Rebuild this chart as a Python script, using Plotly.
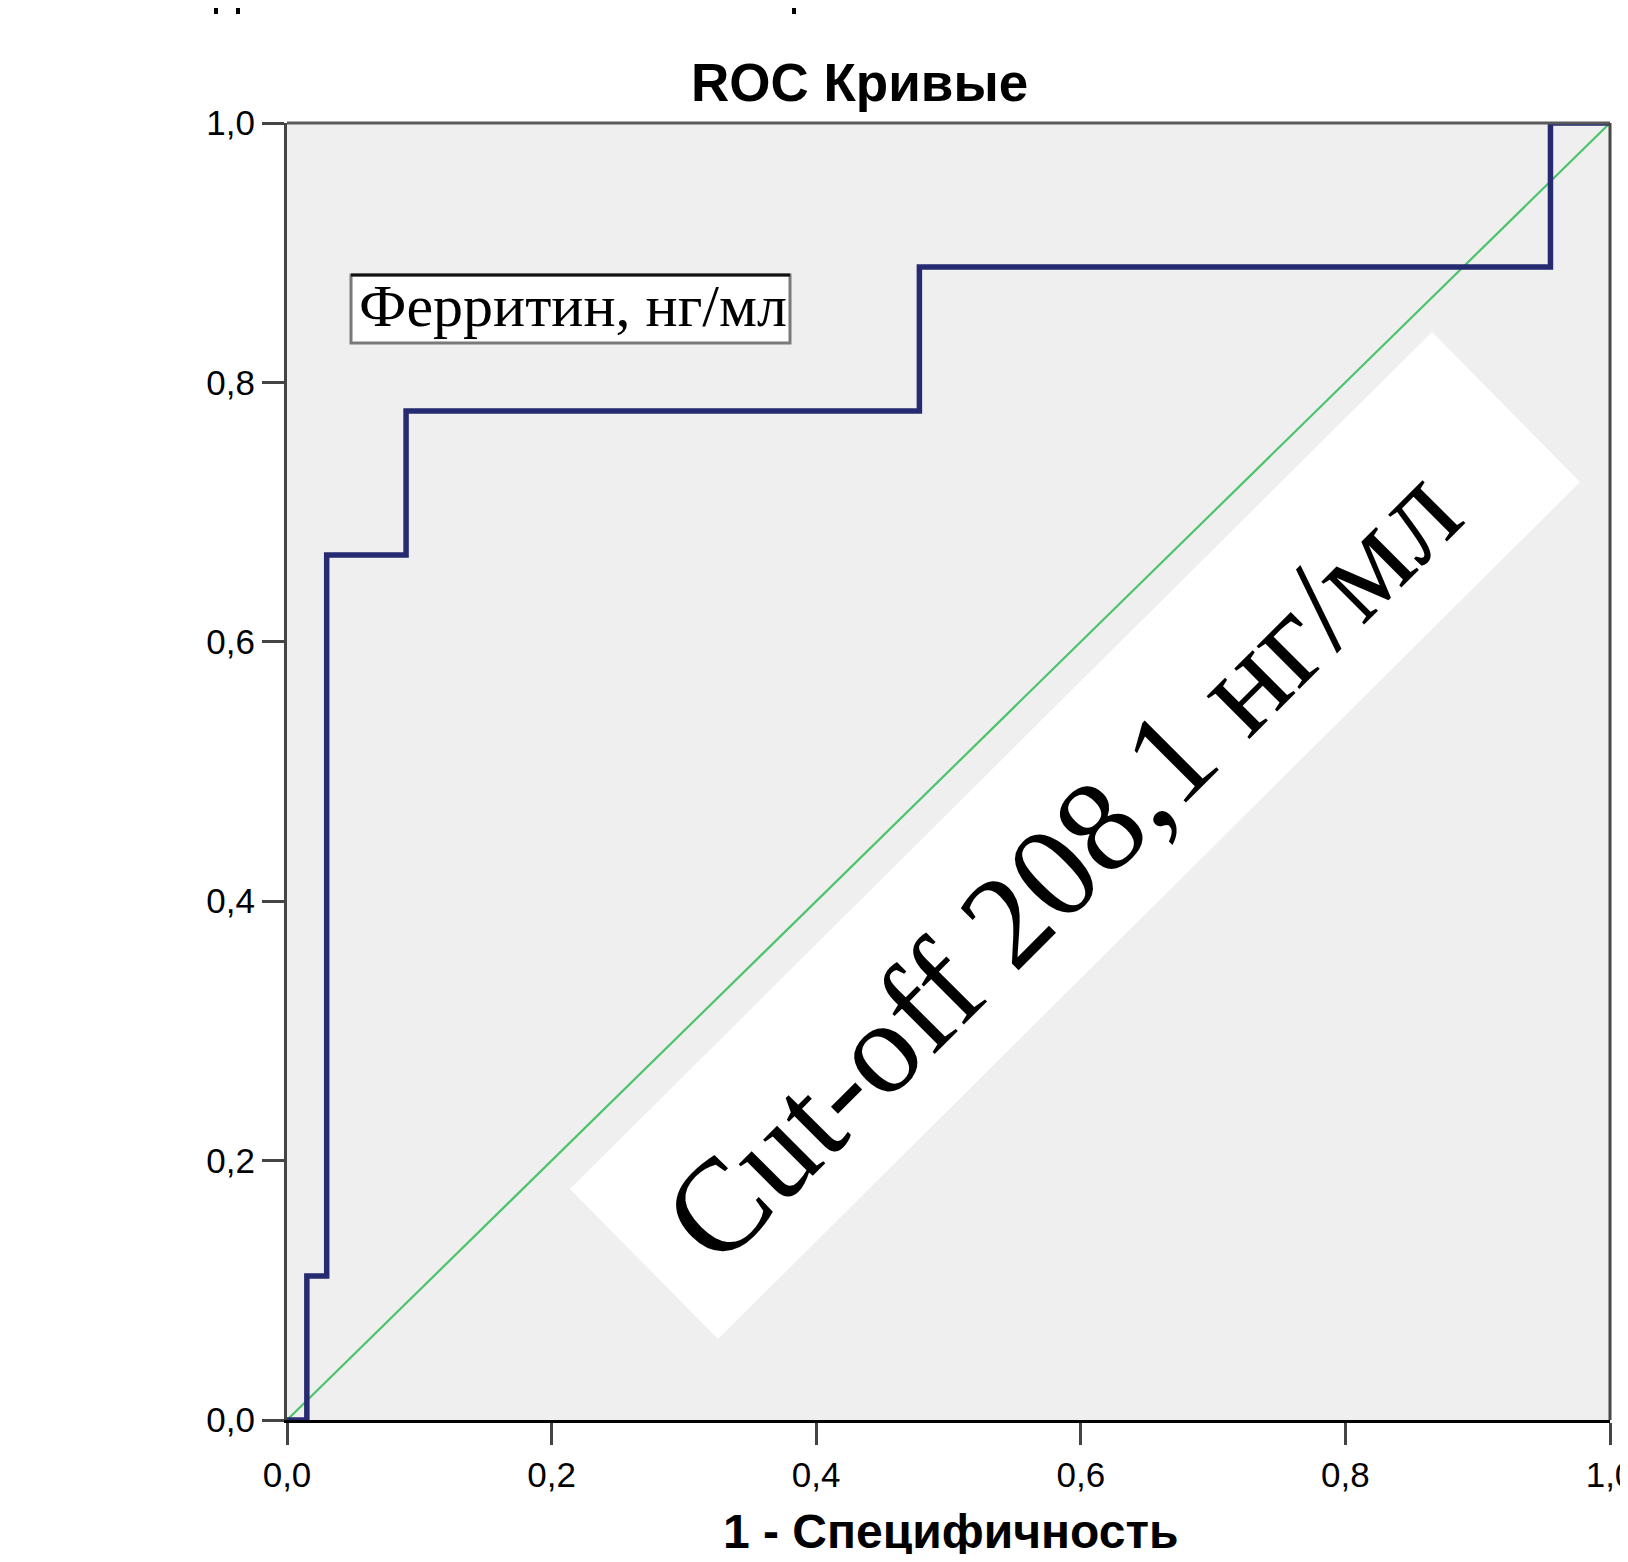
import plotly.graph_objects as go

# ---- data ----
roc_fpr = [0.0, 0.015, 0.015, 0.030, 0.030, 0.090, 0.090, 0.478, 0.478, 0.955, 0.955, 1.0]
roc_tpr = [0.0, 0.0, 0.111, 0.111, 0.667, 0.667, 0.778, 0.778, 0.889, 0.889, 1.0, 1.0]
ref_x = [0.0, 1.0]
ref_y = [0.0, 1.0]
tick_vals = [0.0, 0.2, 0.4, 0.6, 0.8, 1.0]
tick_text = ["0,0", "0,2", "0,4", "0,6", "0,8", "1,0"]

OFF = 8  # page body margin
WIN_W, WIN_H = 1628, 1562
FIG_W, FIG_H = WIN_W - 2 * OFF, WIN_H - 2 * OFF
L, R, T, B = 287, 1610, 123, 1420  # plot area in window pixels


def px(x):
    return (x - L) / (R - L)


def py(y):
    return (B - y) / (B - T)


fig = go.Figure()
fig.add_trace(go.Scatter(x=ref_x, y=ref_y, mode="lines",
                         line=dict(color="#4CC36C", width=2.2), hoverinfo="skip"))
fig.add_trace(go.Scatter(x=roc_fpr, y=roc_tpr, mode="lines",
                         line=dict(color="#262A70", width=5.5), hoverinfo="skip"))

# rotated white box (behind traces)
corners = [(1432, 332), (1580, 482), (718, 1339), (570, 1189)]
path = "M " + " L ".join(f"{px(cx):.5f},{py(cy):.5f}" for cx, cy in corners) + " Z"
shapes = [
    dict(type="path", xref="paper", yref="paper", path=path,
         fillcolor="white", line=dict(width=0), layer="below"),
    # legend label box
    dict(type="rect", xref="paper", yref="paper", x0=px(351), x1=px(790), y0=py(343), y1=py(275),
         fillcolor="white", line=dict(color="#7a7a7a", width=3), layer="above"),
    dict(type="line", xref="paper", yref="paper", x0=px(351), x1=px(790), y0=py(275), y1=py(275),
         line=dict(color="#111111", width=3), layer="above"),
    # top & right frame
    dict(type="line", xref="paper", yref="paper", x0=0, x1=1, y0=1, y1=1,
         line=dict(color="#5a5a5a", width=3), layer="above"),
    dict(type="line", xref="paper", yref="paper", x0=1, x1=1, y0=0, y1=1,
         line=dict(color="#474747", width=3), layer="above"),
]
# stubs of cropped text at the very top edge of the image
for sx in (216, 238, 794):
    shapes.append(dict(type="rect", xref="paper", yref="paper",
                       x0=px(sx - 2), x1=px(sx + 2), y0=py(14), y1=py(8),
                       fillcolor="black", line=dict(width=0), layer="above"))

annotations = [
    dict(text="<b>ROC Кривые</b>", xref="paper", yref="paper", x=px(859), y=py(82),
         showarrow=False, font=dict(family="Liberation Sans", size=53, color="black"),
         xanchor="center", yanchor="middle"),
    dict(text="<b>1 - Специфичность</b>", xref="paper", yref="paper", x=px(950), y=py(1532),
         showarrow=False, font=dict(family="Liberation Sans", size=48, color="black"),
         xanchor="center", yanchor="middle"),
    dict(text="Ферритин, нг/мл", xref="paper", yref="paper", x=px(573), y=py(306),
         showarrow=False, font=dict(family="Liberation Serif", size=60, color="black"),
         xanchor="center", yanchor="middle"),
    dict(text="Cut-off 208,1 нг/мл", xref="paper", yref="paper", x=px(1061), y=py(864),
         showarrow=False, textangle=-45,
         font=dict(family="Liberation Serif", size=132, color="black"),
         xanchor="center", yanchor="middle"),
]

fig.update_layout(
    width=FIG_W, height=FIG_H, autosize=False,
    margin=dict(l=L - OFF, r=(OFF + FIG_W) - R, t=T - OFF, b=(OFF + FIG_H) - B,
                pad=0, autoexpand=False),
    paper_bgcolor="white", plot_bgcolor="#EFEFEF",
    showlegend=False,
    shapes=shapes, annotations=annotations,
    font=dict(family="Liberation Sans", color="black"),
)
fig.update_xaxes(range=[0, 1], tickvals=tick_vals, ticktext=tick_text, automargin=False,
                 showgrid=False, zeroline=False, showline=True, linecolor="black", linewidth=3,
                 ticks="outside", ticklen=22, tickwidth=3, tickcolor="#444444",
                 ticklabeloverflow="allow",
                 tickfont=dict(family="Liberation Sans", size=35, color="black"))
fig.update_yaxes(range=[0, 1], tickvals=tick_vals, ticktext=tick_text, automargin=False,
                 showgrid=False, zeroline=False, showline=True, linecolor="#444444", linewidth=3,
                 ticks="outside", ticklen=22, tickwidth=3, tickcolor="#444444",
                 ticklabeloverflow="allow",
                 tickfont=dict(family="Liberation Sans", size=35, color="black"))

fig.write_html("out.html")
